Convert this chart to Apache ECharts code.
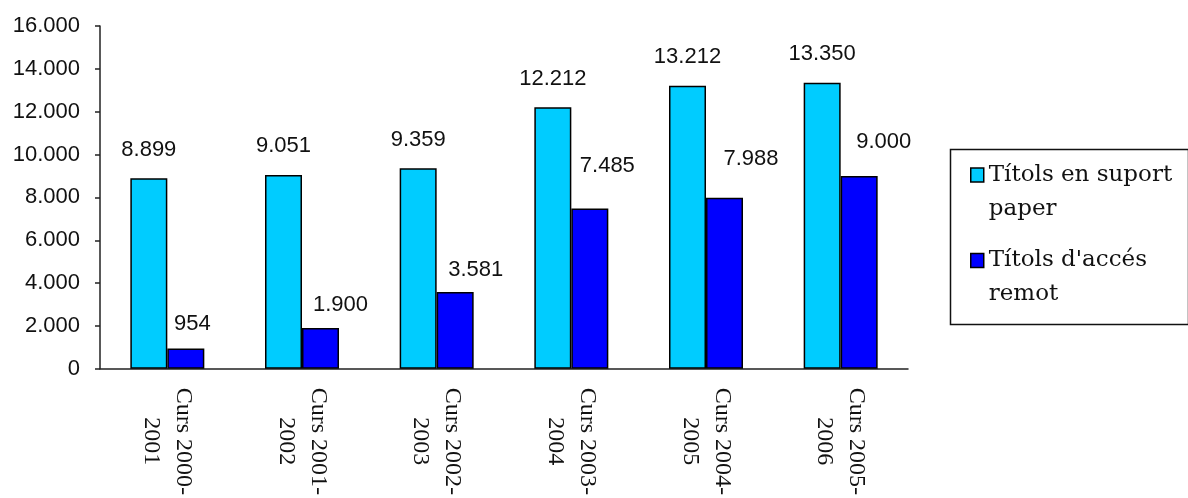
<!DOCTYPE html>
<html>
<head>
<meta charset="utf-8">
<script src="https://cdn.jsdelivr.net/npm/echarts@6/dist/echarts.min.js"></script>
<style>
html,body{margin:0;padding:0;background:#fff;}
#chart{width:1188px;height:498px;}
</style>
</head>
<body>
<div id="chart"></div>
<script>
const categories = ['Curs 2000-\n2001', 'Curs 2001-\n2002', 'Curs 2002-\n2003', 'Curs 2003-\n2004', 'Curs 2004-\n2005', 'Curs 2005-\n2006'];
const paperValues = [8899, 9051, 9359, 12212, 13212, 13350];
const remoteValues = [954, 1900, 3581, 7485, 7988, 9000];
const seriesNames = ['Títols en suport paper', "Títols d'accés remot"];
const legendLabels = ['Títols en suport\npaper', "Títols d'accés\nremot"];
const yTicks = [0, 2000, 4000, 6000, 8000, 10000, 12000, 14000, 16000];

// label nudges for the second series (styling only)
const remoteLabelOffsets = [[6.5, 4], [20, 5.5], [20.5, 6], [17.5, -14], [26.5, -10.5], [24.5, -6]];

function fmt(v) {
  return String(v).replace(/\B(?=(\d{3})+(?!\d))/g, '.');
}

const chart = echarts.init(document.getElementById('chart'), null, {renderer: 'canvas'});
const sansFont = 'Liberation Sans';
const labelStyle = {
  show: true,
  position: 'top',
  distance: 17.5,
  fontFamily: sansFont,
  fontSize: 22,
  lineHeight: 22,
  color: '#111',
  formatter: p => fmt(p.value)
};

chart.setOption({
  animation: false,
  backgroundColor: '#fff',
  grid: {left: 100, right: 280, top: 26, bottom: 128, containLabel: false},
  xAxis: {
    type: 'category',
    data: categories,
    axisLine: {show: true, lineStyle: {color: '#222', width: 1.5}},
    axisTick: {show: false},
    axisLabel: {
      interval: 0,
      rotate: -90,
      align: 'center',
      verticalAlign: 'middle',
      margin: 72.5,
      fontFamily: 'Liberation Serif',
      fontSize: 24,
      lineHeight: 32,
      color: '#111'
    }
  },
  yAxis: {
    type: 'value',
    min: yTicks[0],
    max: yTicks[yTicks.length - 1],
    interval: 2000,
    splitLine: {show: false},
    axisLine: {show: true, lineStyle: {color: '#222', width: 1.5}},
    axisTick: {show: true, length: 5, inside: false, lineStyle: {color: '#222', width: 1.5}},
    axisLabel: {
      margin: 20,
      fontFamily: sansFont,
      fontSize: 22,
      color: '#111',
      formatter: v => fmt(v)
    }
  },
  legend: {
    orient: 'vertical',
    left: 970,
    top: 124,
    padding: 0,
    itemGap: -16.5,
    itemWidth: 13,
    itemHeight: 14,
    icon: 'rect',
    itemStyle: {borderColor: '#000', borderWidth: 1.5},
    formatter: name => '\n' + legendLabels[seriesNames.indexOf(name)],
    textStyle: {
      fontFamily: 'DejaVu Serif',
      fontSize: 23,
      lineHeight: 34,
      color: '#111'
    },
    data: seriesNames
  },
  graphic: [{
    type: 'rect',
    left: 948,
    top: 147,
    shape: {width: 238, height: 175},
    style: {fill: 'none', stroke: '#111', lineWidth: 1.5},
    silent: true
  }],
  series: [
    {
      name: seriesNames[0],
      type: 'bar',
      barWidth: 37,
      barGap: '0%',
      itemStyle: {color: '#00CCFF', borderColor: '#000', borderWidth: 1.5},
      label: labelStyle,
      data: paperValues
    },
    {
      name: seriesNames[1],
      type: 'bar',
      barWidth: 37,
      barGap: '0%',
      itemStyle: {color: '#0000FF', borderColor: '#000', borderWidth: 1.5},
      label: labelStyle,
      data: remoteValues.map((v, i) => ({value: v, label: {offset: remoteLabelOffsets[i]}}))
    }
  ]
});
</script>
</body>
</html>
